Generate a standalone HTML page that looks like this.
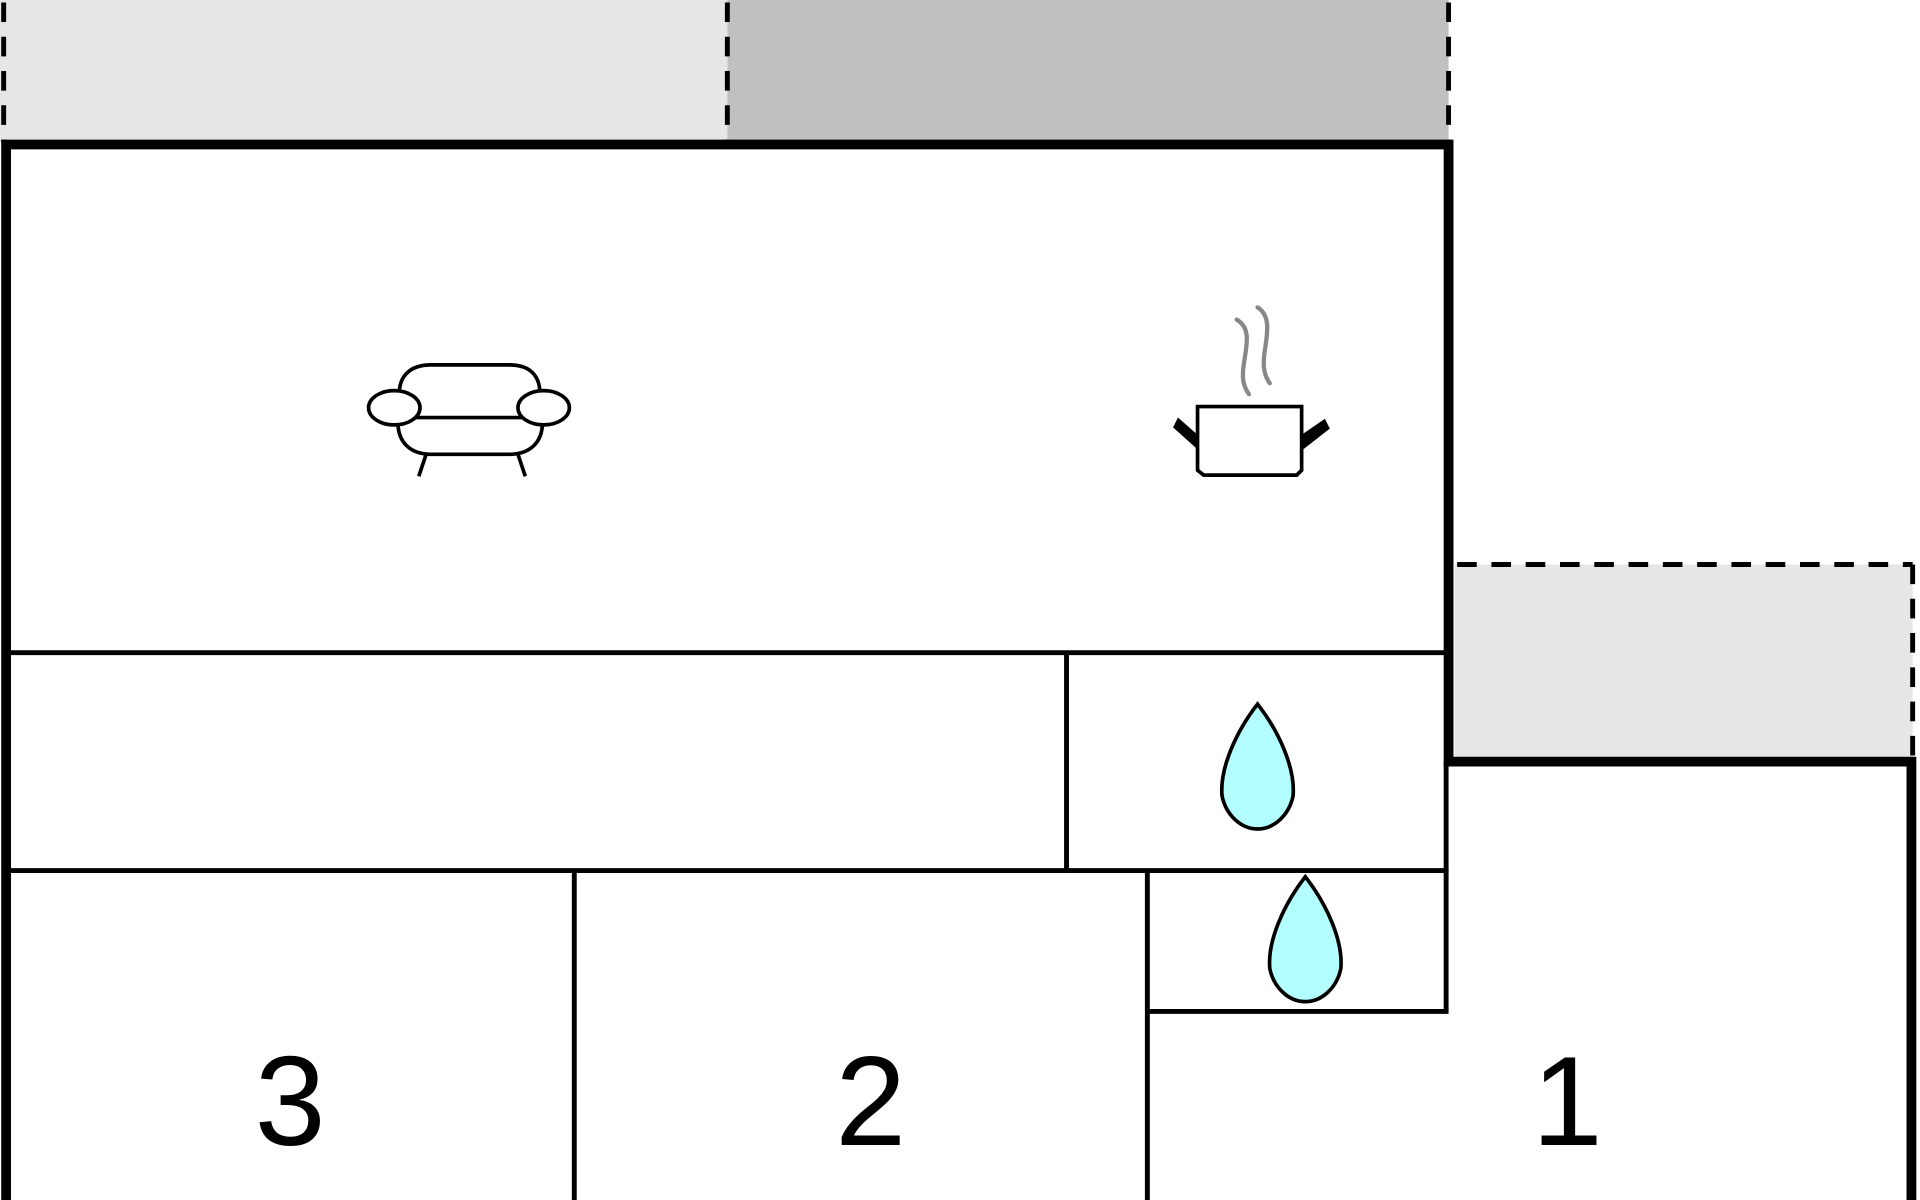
<!DOCTYPE html>
<html><head><meta charset="utf-8"><style>html,body{margin:0;padding:0;background:#fff;overflow:hidden}svg{display:block}</style></head>
<body>
<svg width="1920" height="1200" viewBox="0 0 1568 980" xmlns="http://www.w3.org/2000/svg">
<rect x="0" y="0" width="594" height="116" fill="#e6e6e6"/>
<rect x="594" y="0" width="589" height="116" fill="#c0c0c0"/>
<rect x="1188" y="461" width="374" height="157" fill="#e6e6e6"/>
<g stroke="#000" stroke-width="4" stroke-dasharray="16,12" fill="none">
<line x1="3" y1="2" x2="3" y2="116"/>
<line x1="594" y1="2" x2="594" y2="116"/>
<line x1="1183" y1="2" x2="1183" y2="116"/>
<line x1="1190" y1="461" x2="1562" y2="461"/>
<line x1="1562" y1="461" x2="1562" y2="618"/>
</g>
<g stroke="#000" stroke-width="8" fill="none" stroke-linecap="square">
<polyline points="5,980 5,118 1183,118 1183,622 1561,622 1561,980"/>
</g>
<g stroke="#000" stroke-width="4" fill="none">
<line x1="5" y1="533" x2="1183" y2="533"/>
<line x1="871" y1="533" x2="871" y2="711"/>
<line x1="5" y1="711" x2="1183" y2="711"/>
<line x1="469" y1="711" x2="469" y2="980"/>
<line x1="937" y1="711" x2="937" y2="980"/>
<line x1="937" y1="826" x2="1183" y2="826"/>
<line x1="1181" y1="622" x2="1181" y2="826"/>
</g>
<g font-family="Liberation Sans, sans-serif" font-size="104" text-anchor="middle" fill="#000">
<text x="237" y="935">3</text>
<text x="711" y="935">2</text>
<text x="1280" y="935">1</text>
</g>
<!-- drops -->
<g fill="#b3ffff" stroke="#000" stroke-width="3">
<path d="M1027,575 C1045,598 1058,628 1056,650 C1053,665 1041,677 1027,677 C1013,677 1001,665 998,650 C996,628 1009,598 1027,575 Z"/>
<path d="M1066,716 C1084,739 1097,769 1095,791 C1092,806 1080,818 1066,818 C1052,818 1040,806 1037,791 C1035,769 1048,739 1066,716 Z"/>
</g>
<!-- sofa -->
<g stroke="#000" stroke-width="3" fill="#fff">
<path d="M326,322 C326,306 336,298 352,298 L416,298 C432,298 441,306 441,322"/>
<path d="M325,345 C325,362 336,371 352,371 L416,371 C432,371 443,362 443,345"/>
<line x1="340" y1="341" x2="426" y2="341"/>
<ellipse cx="322" cy="333" rx="21" ry="14"/>
<ellipse cx="444" cy="333" rx="21" ry="14"/>
<line x1="348" y1="371" x2="342" y2="389"/>
<line x1="423" y1="371" x2="429" y2="389"/>
</g>
<!-- pot -->
<g stroke="#000" stroke-width="3" fill="#fff">
<path d="M978,332 L1063,332 L1063,384 L1059,388 L983,388 L978,384 Z"/>
</g>
<path d="M978,355 L962,341 L958,349 L978,367 Z" fill="#000"/>
<path d="M1063,355 L1082,342 L1086,350 L1063,368 Z" fill="#000"/>
<g stroke="#888" stroke-width="3.5" fill="none" stroke-linecap="round">
<path d="M1010,261 C1022,268 1018,282 1016,296 C1014,308 1015,315 1020,322"/>
<path d="M1027,251 C1038,258 1035,272 1033,286 C1031,298 1032,306 1037,313"/>
</g>
</svg>
</body></html>
